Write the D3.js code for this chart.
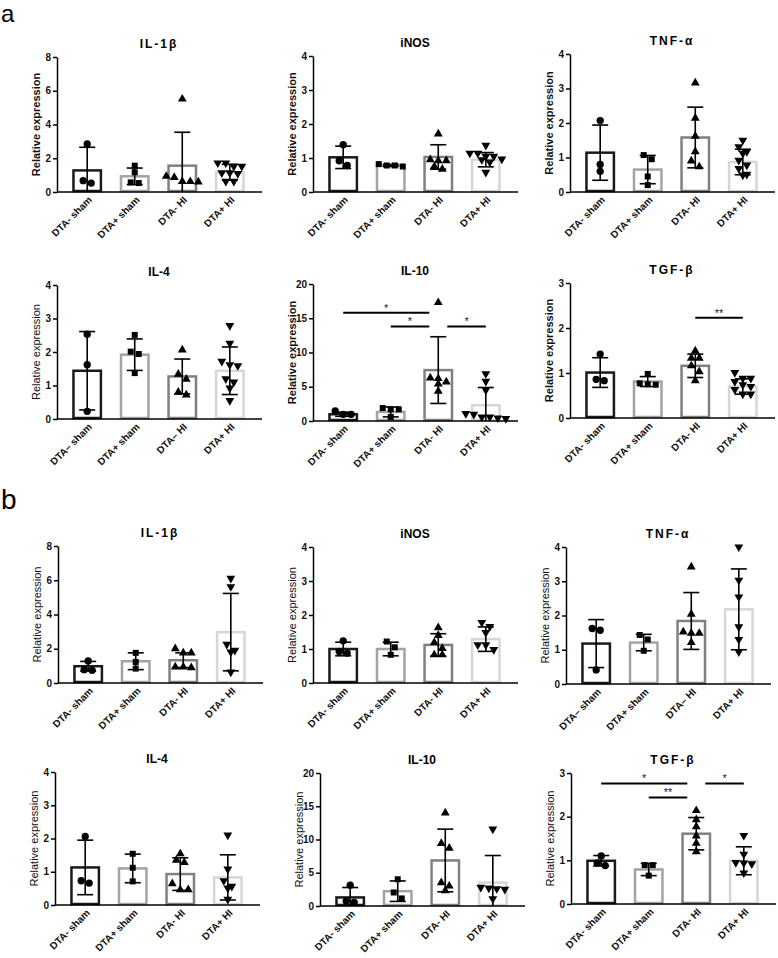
<!DOCTYPE html>
<html>
<head>
	<meta charset="utf-8">
	<title>Relative expression</title>
	<script src="https://cdn.jsdelivr.net/npm/d3@7"></script>
	<style>
		body {
			margin: 0;
			background: #fff;
			font-family: "Liberation Sans", Arial, sans-serif;
		}
	</style>
</head>
<body>
	<div id="chart"></div>
	<script>

		// data

		const groups     = ["DTA- sham", "DTA+ sham", "DTA- HI", "DTA+ HI"];
		const groupsDash = ["DTA\u2013 sham", "DTA+ sham", "DTA\u2013 HI", "DTA+ HI"];

		// panel a
		const aIL1bMean = [1.28, 0.93, 1.56, 1.17];
		const aIL1bSD   = [1.37, 0.49, 1.98, 0.47];
		const aIL1bPts  = [[2.85, 0.53, 0.67], [1.56, 1.17, 0.53, 0.57], [5.51, 0.93, 0.63, 0.60, 0.62, 0.87], [1.72, 1.52, 1.52, 1.72, 1.13, 1.09, 1.13, 0.63, 0.63]];

		const aINOSMean = [1.02, 0.78, 1.03, 0.95];
		const aINOSSD   = [0.33, 0.03, 0.36, 0.21];
		const aINOSPts  = [[1.39, 0.78, 0.92], [0.78, 0.75, 0.78, 0.82], [1.71, 0.95, 0.92, 0.92, 0.75, 0.67], [1.37, 1.14, 1.14, 1.05, 0.95, 0.97, 1.05, 0.88, 0.58]];

		const aTNFMean = [1.14, 0.65, 1.58, 0.87];
		const aTNFSD   = [0.80, 0.41, 0.88, 0.37];
		const aTNFPts  = [[2.07, 0.80, 0.60], [1.07, 0.95, 0.45, 0.20], [3.16, 2.14, 1.62, 1.17, 0.90, 0.73], [1.50, 1.31, 1.17, 1.12, 0.92, 0.78, 0.68, 0.49, 0.51]];

		const aIL4Mean = [1.44, 1.92, 1.27, 1.44];
		const aIL4SD   = [1.17, 0.47, 0.52, 0.71];
		const aIL4Pts  = [[2.53, 1.62, 0.23], [2.51, 2.01, 1.94, 1.37], [2.06, 1.34, 1.19, 0.80, 0.72], [2.79, 2.26, 1.72, 1.62, 1.59, 1.20, 1.10, 0.92, 0.55]];

		const aIL10Mean = [0.98, 1.32, 7.43, 2.30];
		const aIL10SD   = [0.30, 0.72, 4.87, 2.59];
		const aIL10Pts  = [[1.47, 0.98, 0.98], [1.71, 1.90, 1.71, 0.59], [17.3, 6.2, 6.3, 5.7, 5.4, 4.35], [6.9, 5.8, 4.5, 1.08, 0.98, 0.59, 0.59, 0.44, 0.34]];
		const aIL10Sig  = [[0, 2, 15.8, "*"], [1, 2, 13.8, "*"], [2, 3, 13.8, "*"]];

		const aTGFMean = [1.01, 0.81, 1.16, 0.70];
		const aTGFSD   = [0.33, 0.11, 0.26, 0.17];
		const aTGFPts  = [[1.42, 0.83, 0.86], [0.98, 0.77, 0.74, 0.75], [1.49, 1.33, 1.33, 1.16, 1.03, 0.83], [1.01, 0.88, 0.88, 0.81, 0.74, 0.70, 0.63, 0.53, 0.53]];
		const aTGFSig  = [[2, 3, 2.23, "**"]];

		// panel b
		const bIL1bMean = [0.98, 1.27, 1.33, 2.97];
		const bIL1bSD   = [0.28, 0.49, 0.43, 2.26];
		const bIL1bPts  = [[1.29, 0.78, 0.74], [1.76, 1.23, 0.84], [2.01, 1.76, 1.76, 0.94, 0.90, 0.94], [6.11, 5.62, 2.26, 1.91, 1.81, 0.64]];

		const bINOSMean = [1.00, 1.00, 1.12, 1.29];
		const bINOSSD   = [0.20, 0.20, 0.33, 0.36];
		const bINOSPts  = [[1.24, 0.88, 0.93], [1.22, 1.05, 0.83], [1.63, 1.40, 1.19, 1.02, 0.83, 0.83], [1.78, 1.66, 1.48, 1.12, 0.98, 1.12]];

		const bTNFMean = [1.18, 1.21, 1.84, 2.18];
		const bTNFSD   = [0.70, 0.24, 0.83, 1.18];
		const bTNFPts  = [[1.62, 1.57, 0.41], [1.43, 1.30, 0.97], [3.42, 2.04, 1.52, 1.48, 1.48, 1.21], [4.00, 3.03, 2.54, 1.67, 1.30, 0.94]];

		const bIL4Mean = [1.13, 1.10, 0.93, 0.83];
		const bIL4SD   = [0.82, 0.43, 0.49, 0.68];
		const bIL4Pts  = [[2.06, 0.66, 0.73], [1.54, 1.12, 0.71], [1.54, 1.35, 1.28, 0.64, 0.46, 0.46], [2.10, 1.08, 0.56, 0.73, 0.51, 0.17]];

		const bIL10Mean = [1.29, 2.23, 6.85, 3.52];
		const bIL10SD   = [1.49, 1.54, 4.71, 4.07];
		const bIL10Pts  = [[3.13, 0.55, 0.74], [4.02, 2.03, 1.14], [14.0, 9.4, 8.7, 3.5, 3.0, 2.3], [11.56, 2.8, 2.6, 2.7, 2.5, 1.1]];

		const bTGFMean = [0.99, 0.79, 1.61, 0.99];
		const bTGFSD   = [0.12, 0.14, 0.37, 0.32];
		const bTGFPts  = [[1.10, 0.88, 0.94], [0.89, 0.89, 0.65], [2.14, 1.93, 1.77, 1.56, 1.39, 1.20], [1.57, 1.14, 0.92, 0.95, 0.94, 0.71]];
		const bTGFSig  = [[0, 2, 2.76, "*"], [1, 2, 2.44, "**"], [2, 3, 2.76, "*"]];

		// layout

		const width  = 778;
		const height = 958;
		const plotW  = 205;
		const barStroke = ["#1a1a1a", "#a3a3a3", "#808080", "#d6d6d6"];
		const symbols = [d3.symbolCircle, d3.symbolSquare, d3.symbolTriangle, d3.symbolTriangle];

		const panels = [
			{ title: "IL-1\u03b2", spaced: true, max: 8, step: 2, mean: aIL1bMean, sd: aIL1bSD, pts: aIL1bPts, x0: 57, top: 57, zero: 192, bold: true },
			{ title: "iNOS",       max: 4, step: 1, mean: aINOSMean, sd: aINOSSD, pts: aINOSPts, x0: 313, top: 56, zero: 192, bold: true },
			{ title: "TNF-\u03b1", spaced: true, max: 4, step: 1, mean: aTNFMean, sd: aTNFSD, pts: aTNFPts, x0: 570, top: 54, zero: 192, bold: true },
			{ title: "IL-4",       max: 4, step: 1, mean: aIL4Mean, sd: aIL4SD, pts: aIL4Pts, x0: 57, top: 285, zero: 419, dash: true },
			{ title: "IL-10",      max: 20, step: 5, mean: aIL10Mean, sd: aIL10SD, pts: aIL10Pts, sig: aIL10Sig, x0: 313, top: 284, zero: 421, bold: true },
			{ title: "TGF-\u03b2", spaced: true, max: 3, step: 1, mean: aTGFMean, sd: aTGFSD, pts: aTGFPts, sig: aTGFSig, x0: 570, top: 283, zero: 418, bold: true },
			{ title: "IL-1\u03b2", spaced: true, max: 8, step: 2, mean: bIL1bMean, sd: bIL1bSD, pts: bIL1bPts, x0: 58, top: 546, zero: 683 },
			{ title: "iNOS",       max: 4, step: 1, mean: bINOSMean, sd: bINOSSD, pts: bINOSPts, x0: 313, top: 547, zero: 683 },
			{ title: "TNF-\u03b1", spaced: true, max: 4, step: 1, mean: bTNFMean, sd: bTNFSD, pts: bTNFPts, x0: 566, top: 547, zero: 684, dash: true },
			{ title: "IL-4",       max: 4, step: 1, mean: bIL4Mean, sd: bIL4SD, pts: bIL4Pts, x0: 55, top: 772, zero: 905 },
			{ title: "IL-10",      max: 20, step: 5, mean: bIL10Mean, sd: bIL10SD, pts: bIL10Pts, x0: 320, top: 773, zero: 906 },
			{ title: "TGF-\u03b2", spaced: true, max: 3, step: 1, mean: bTGFMean, sd: bTGFSD, pts: bTGFPts, sig: bTGFSig, x0: 571, top: 773, zero: 904 },
		];

		const svg = d3.select("#chart")
			.append("svg")
			.attr("width", width)
			.attr("height", height)
			.attr("viewBox", [0, 0, width, height])
			.style("font-family", "'Liberation Sans', Arial, sans-serif");

		svg.append("text").attr("x", 1).attr("y", 22).attr("font-size", 24).text("a");
		svg.append("text").attr("x", 1).attr("y", 509).attr("font-size", 28).text("b");

		// spread points with similar values side by side, like a scatter dot plot
		function spread(values, y) {
			const order = d3.range(values.length).sort((a, b) => values[b] - values[a]);
			const offsets = new Array(values.length).fill(0);
			let cluster = [];
			const flush = () => {
				cluster.forEach((idx, k) => offsets[idx] = (k - (cluster.length - 1) / 2) * 8);
				cluster = [];
			};
			order.forEach(idx => {
				if (cluster.length && y(values[idx]) - y(values[cluster[0]]) > 6) flush();
				cluster.push(idx);
			});
			flush();
			return offsets;
		}

		function drawPanel(p) {
			const labels = p.dash ? groupsDash : groups;
			const g = svg.append("g");
			const x = d3.scaleBand(d3.range(4), [p.x0, p.x0 + 203]).paddingInner(0.37).paddingOuter(0.32);
			const y = d3.scaleLinear([0, p.max], [p.zero, p.top]);
			const cx = i => x(i) + x.bandwidth() / 2;

			// bars
			g.append("g")
				.selectAll("rect")
				.data(d3.range(4))
				.join("rect")
				.attr("x", i => x(i) + 1.25)
				.attr("width", x.bandwidth() - 2.5)
				.attr("y", i => y(p.mean[i]))
				.attr("height", i => y(0) - y(p.mean[i]) - 1)
				.attr("fill", "#fff")
				.attr("stroke", i => barStroke[i])
				.attr("stroke-width", 2.5);

			// error bars (mean ± SD)
			const err = g.append("g").attr("stroke", "#000").attr("stroke-width", 1.6).attr("fill", "none");
			d3.range(4).forEach(i => {
				const hi = p.mean[i] + p.sd[i];
				const lo = Math.max(0, p.mean[i] - p.sd[i]);
				err.append("line").attr("x1", cx(i)).attr("x2", cx(i)).attr("y1", y(hi)).attr("y2", y(lo));
				err.append("line").attr("x1", cx(i) - 8).attr("x2", cx(i) + 8).attr("y1", y(hi)).attr("y2", y(hi));
				if (p.mean[i] - p.sd[i] > 0.02 * p.max)
					err.append("line").attr("x1", cx(i) - 8).attr("x2", cx(i) + 8).attr("y1", y(lo)).attr("y2", y(lo));
			});

			// individual points
			const dots = g.append("g").attr("fill", "#000");
			p.pts.forEach((vals, i) => {
				const off = spread(vals, y);
				const sym = d3.symbol(symbols[i], i === 0 ? 42 : i === 1 ? 36 : 34);
				dots.selectAll(null)
					.data(vals)
					.join("path")
					.attr("d", sym)
					.attr("transform", (v, k) => `translate(${cx(i) + off[k]},${y(v)})${i === 3 ? " rotate(180)" : ""}`);
			});

			// y axis
			g.append("g")
				.attr("transform", `translate(${p.x0},0)`)
				.call(d3.axisLeft(y)
					.tickValues(d3.range(0, p.max + 0.001, p.step))
					.tickFormat(d3.format("d"))
					.tickSize(4).tickSizeOuter(0).tickPadding(2))
				.call(a => a.select(".domain").attr("stroke-width", 1.5))
				.call(a => a.selectAll(".tick line").attr("stroke-width", 1.5))
				.call(a => a.selectAll("text").attr("font-size", 10).attr("font-weight", "bold").attr("fill", "#111"));

			// x axis line, labels drawn rotated below each bar
			g.append("g")
				.attr("transform", `translate(0,${p.zero})`)
				.call(d3.axisBottom(x).tickFormat("").tickSize(0).tickSizeOuter(0))
				.call(a => a.select(".domain").attr("d", `M${p.x0},0H${p.x0 + plotW}`).attr("stroke-width", 1.5));

			g.append("g")
				.selectAll("text")
				.data(d3.range(4))
				.join("text")
				.attr("transform", i => `translate(${cx(i) + 3},${p.zero + 6}) rotate(-45)`)
				.attr("text-anchor", "end")
				.attr("dy", "0.35em")
				.attr("font-size", 10)
				.attr("font-weight", "bold")
				.attr("fill", "#111")
				.text(i => labels[i]);

			// y label
			g.append("text")
				.attr("transform", `translate(${p.x0 - 21},${(p.top + p.zero) / 2}) rotate(-90)`)
				.attr("text-anchor", "middle")
				.attr("dy", "0.35em")
				.attr("font-size", 11)
				.attr("font-weight", p.bold ? "bold" : "normal")
				.attr("fill", "#111")
				.text("Relative expression");

			// title
			g.append("text")
				.attr("x", p.x0 + 102)
				.attr("y", p.top - 9)
				.attr("text-anchor", "middle")
				.attr("font-size", 12)
				.attr("font-weight", "bold")
				.attr("letter-spacing", p.spaced ? 2 : 0)
				.text(p.title);

			// significance brackets
			if (p.sig) {
				const starts = new Set(p.sig.map(s => s[0]));
				const ends = new Set(p.sig.map(s => s[1]));
				p.sig.forEach(([a, b, v, label]) => {
					const xa = cx(a) + (ends.has(a) ? 9 : 0);
					const xb = cx(b) - (starts.has(b) ? 9 : 0);
					g.append("line")
						.attr("x1", xa).attr("x2", xb)
						.attr("y1", y(v)).attr("y2", y(v))
						.attr("stroke", "#000").attr("stroke-width", 2);
					g.append("text")
						.attr("x", (xa + xb) / 2)
						.attr("y", y(v) - 1)
						.attr("text-anchor", "middle")
						.attr("font-size", 11)
						.attr("fill", "#222")
						.text(label);
				});
			}
		}

		panels.forEach(drawPanel);

	</script>
</body>
</html>
